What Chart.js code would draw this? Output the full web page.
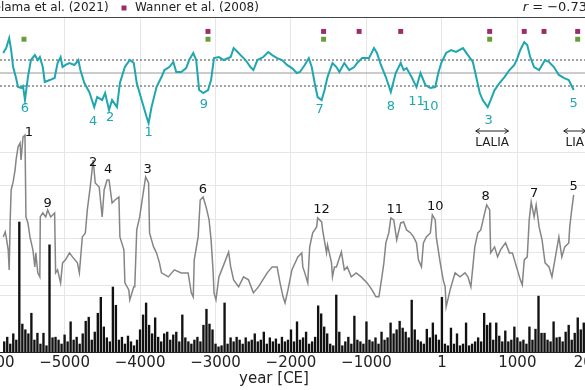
<!DOCTYPE html>
<html>
<head>
<meta charset="utf-8">
<title>Holocene proxies</title>
<script src="https://cdn.jsdelivr.net/npm/chart.js@4.4.1/dist/chart.umd.min.js"></script>
<style>
    html, body { margin: 0; padding: 0; background: #ffffff; }
    #frame { position: relative; width: 585px; height: 390px; overflow: hidden; }
    #chart { position: absolute; left: -60px; top: 0; }
</style>
</head>
<body>
<div id="frame"><canvas id="chart" width="700" height="390"></canvas></div>
<script>
// ========================================
// DATA
// ========================================
// top series (standardised anomaly)
const cyanYears = [-5813,-5774,-5734,-5708,-5682,-5643,-5617,-5577,-5551,-5525,
    -5486,-5446,-5394,-5355,-5328,-5289,-5263,-5197,-5132,-5093,
    -5053,-5027,-4988,-4935,-4870,-4817,-4791,-4738,-4673,-4607,
    -4568,-4502,-4463,-4411,-4371,-4306,-4267,-4201,-4136,-4083,
    -4044,-3979,-3913,-3887,-3848,-3782,-3716,-3677,-3612,-3559,
    -3520,-3454,-3389,-3349,-3295,-3256,-3217,-3164,-3099,-3059,
    -3020,-2955,-2889,-2799,-2760,-2707,-2668,-2602,-2537,-2498,
    -2445,-2367,-2301,-2249,-2184,-2118,-2053,-1988,-1922,-1882,
    -1817,-1764,-1725,-1686,-1647,-1594,-1555,-1516,-1450,-1398,
    -1359,-1293,-1228,-1162,-1123,-1057,-966,-900,-861,-808,
    -743,-677,-612,-546,-507,-468,-402,-337,-284,-219,
    -153,-88,-48,-9,56,122,187,279,345,410,
    449,502,541,607,646,698,764,829,895,960,
    1000,1039,1091,1131,1170,1222,1288,1367,1419,1484,
    1550,1615,1681,1746];
const cyanValues = [1.54,1.92,2.69,1.77,0.46,-0.38,-1.08,-1.15,-1.0,-2.08,
    -0.31,1.0,1.38,1.0,1.23,0.46,-0.69,-0.54,-0.38,0.77,
    1.23,0.46,0.62,0.77,0.62,1.0,0.23,-0.77,-1.46,-2.62,
    -1.85,-2.08,-1.54,-2.85,-2.08,-2.62,-0.77,0.46,1.0,0.77,
    -0.77,-2.08,-3.38,-3.85,-2.62,-1.08,-0.31,0.23,0.46,0.85,
    0.08,0.08,0.38,1.0,1.54,1.0,-1.31,-1.54,-1.31,-0.54,
    1.15,1.23,1.0,1.23,1.92,1.62,1.38,1.0,0.46,0.23,
    1.0,1.23,1.62,1.38,1.15,1.0,0.62,0.38,0.0,0.08,
    0.62,1.15,0.46,-0.77,-1.85,-2.08,-1.31,-0.31,0.77,0.46,
    0.08,0.77,0.23,0.46,0.77,1.15,1.15,1.92,1.54,0.62,
    -0.31,-1.46,0.0,0.77,0.23,0.38,-0.31,-1.08,0.0,-0.92,
    -1.15,-1.08,0.0,0.77,1.54,1.77,1.62,1.92,1.38,0.85,
    -0.15,-1.54,-2.08,-2.62,-2.08,-1.31,-0.77,-0.31,0.23,0.62,
    1.15,1.77,2.38,2.15,1.23,0.46,0.23,1.0,0.85,0.46,
    -0.15,-0.38,-0.54,-1.31];

// bottom grey series
const grayYears = [-5813,-5787,-5774,-5747,-5734,-5721,-5708,-5682,-5656,-5643,
    -5617,-5590,-5577,-5551,-5525,-5512,-5486,-5459,-5420,-5394,
    -5381,-5355,-5328,-5322,-5289,-5250,-5224,-5184,-5132,-5119,
    -5093,-5053,-5027,-4988,-4935,-4896,-4830,-4804,-4765,-4725,
    -4699,-4660,-4621,-4594,-4542,-4502,-4476,-4437,-4411,-4371,
    -4332,-4280,-4267,-4214,-4201,-4149,-4136,-4083,-4070,-4044,
    -4005,-3952,-3926,-3887,-3874,-3848,-3821,-3782,-3743,-3716,
    -3625,-3546,-3454,-3363,-3321,-3295,-3282,-3230,-3203,-3164,
    -3125,-3085,-3059,-3033,-3020,-2994,-2955,-2902,-2826,-2799,
    -2760,-2694,-2629,-2563,-2498,-2432,-2315,-2249,-2184,-2145,
    -2105,-2079,-2040,-1988,-1909,-1857,-1843,-1817,-1778,-1752,
    -1712,-1660,-1647,-1594,-1581,-1529,-1516,-1463,-1450,-1424,
    -1398,-1332,-1293,-1254,-1201,-1136,-1070,-991,-926,-874,
    -835,-795,-769,-743,-704,-677,-638,-599,-546,-507,
    -468,-415,-376,-337,-311,-271,-245,-206,-153,-127,
    -88,-75,-22,17,43,56,109,174,240,305,
    345,384,436,476,515,567,593,633,646,698,
    738,777,843,895,934,973,1039,1065,1091,1131,
    1157,1183,1222,1249,1288,1327,1367,1419,1458,1497,
    1550,1589,1628,1681,1694,1720,1746];
const grayValues = [2.45,2.60,2.45,2.06,1.46,2.96,3.86,4.10,4.46,4.76,
    5.15,5.27,4.76,5.45,5.51,3.05,2.87,2.45,2.06,1.55,
    1.97,1.37,1.25,3.05,3.17,3.05,3.26,3.05,3.17,1.37,
    1.46,1.07,1.67,1.76,1.97,1.85,1.67,1.37,2.45,2.57,
    3.26,3.95,4.76,4.07,3.95,3.05,3.86,4.16,4.16,3.47,
    3.56,3.65,2.45,2.06,1.07,0.86,0.56,0.95,0.95,2.66,
    3.05,3.86,4.25,4.07,2.57,2.36,2.15,1.97,1.67,1.37,
    1.25,1.46,1.37,1.37,0.77,0.65,1.76,2.45,3.56,3.65,
    3.35,2.96,2.36,1.46,0.77,0.56,1.25,1.55,2.00,1.55,
    1.16,0.95,1.25,1.16,0.77,0.95,1.37,1.55,1.55,1.07,
    0.65,0.47,0.86,1.46,1.85,1.97,1.55,1.37,1.07,2.15,
    2.57,2.75,3.02,2.90,2.66,1.97,2.21,1.67,1.25,1.55,
    1.55,2.00,1.46,1.55,1.25,1.37,1.25,1.07,0.86,0.65,
    0.65,1.25,1.67,2.27,2.57,3.02,2.96,2.36,2.87,2.90,
    2.66,2.57,2.45,2.27,1.76,1.55,2.27,2.45,2.57,3.11,
    2.96,2.45,1.67,1.16,0.95,0.35,0.86,1.37,1.25,1.37,
    1.25,0.95,2.15,2.57,2.66,3.17,3.41,3.26,1.97,2.15,
    1.85,2.06,2.27,1.97,1.97,1.67,1.16,1.01,1.76,1.85,
    2.96,3.50,3.05,3.41,2.75,2.36,1.67,1.55,1.25,1.76,
    2.45,1.85,2.15,2.27,2.75,3.26,3.71];

// black histogram, 40-year bins starting at 5800 BCE
const barStartYear = -5800;
const barStep = 40;
const barValues = [1.8,2.6,1.4,3.2,2.1,22.8,4.9,3.9,3.2,6.8,
    2.1,3.3,1.4,3.3,1.1,18.8,2.5,2.6,2.1,1.4,
    3.0,1.8,5.3,2.1,2.6,1.4,3.2,5.4,6.1,2.1,
    3.5,6.8,9.6,4.4,2.5,1.8,11.4,8.2,2.1,2.6,
    1.4,2.8,1.8,1.1,2.1,3.9,6.5,8.6,4.7,3.2,
    6.0,2.6,1.8,3.2,3.5,2.1,3.0,3.5,1.8,6.5,
    2.5,1.8,1.4,2.1,2.6,1.8,4.7,7.5,4.9,3.9,
    1.4,0.9,1.1,8.6,1.4,2.5,1.8,2.6,2.1,1.4,
    2.5,1.8,2.1,3.2,1.8,2.1,3.5,1.4,2.5,1.8,
    2.3,1.4,2.6,1.8,2.1,3.9,1.8,5.3,2.1,2.5,
    3.5,1.4,1.8,2.6,8.1,6.7,4.4,3.2,1.4,1.1,
    10.0,3.5,1.1,1.8,2.6,1.4,6.3,2.1,1.8,1.4,
    5.3,2.1,1.8,2.5,1.4,3.5,2.1,2.5,5.1,3.2,
    3.9,5.4,4.2,3.5,2.5,9.1,3.9,2.1,1.8,1.4,
    4.0,2.5,5.1,3.0,2.1,9.6,1.4,1.1,4.2,1.4,
    3.2,1.1,1.4,5.1,1.1,1.4,1.8,2.5,1.8,6.8,
    4.7,5.1,2.1,5.1,2.8,1.8,3.7,1.8,2.1,4.4,
    2.5,1.8,2.1,1.4,4.4,2.1,4.0,9.8,3.3,3.3,
    2.1,1.8,5.3,2.5,2.6,1.8,3.5,4.7,2.1,3.3,
    6.0,3.9,5.1,2.6,3.5];

// event markers
const helamaYears = [-5538, -3100, -1568, 633, 1799];
const wannerYears = [-3100, -1568, -1097, -546, 633, 1091, 1353, 1799];
const helamaLevel = 2.6;
const wannerLevel = 3.2;

// reference levels of the top series
const refLevels = [1, 0, -1];

// x axis ticks
const xTicks = [-6000, -5000, -4000, -3000, -2000, -1000, 0, 1000, 2000];

// numbered minima / maxima
const cyanLabels = ['6', '4', '2', '1', '9', '7', '8', '11', '10', '3', '5'];
const cyanLabelYears = [-5525, -4621, -4398, -3887, -3153, -1620, -677, -337, -153, 620, 1746];
const cyanLabelValues = [-2.77, -3.77, -3.46, -4.62, -2.46, -2.85, -2.62, -2.23, -2.62, -3.69, -2.38];
const grayLabels = ['1', '9', '2', '4', '3', '6', '12', '11', '10', '8', '7', '5'];
const grayLabelYears = [-5472, -5224, -4621, -4424, -3900, -3167, -1594, -624, -88, 580, 1222, 1746];
const grayLabelValues = [5.57, 3.44, 4.67, 4.46, 4.46, 3.86, 3.26, 3.26, 3.35, 3.65, 3.74, 3.95];

// cold periods
const periodNames = ['LALIA', 'LIA'];
const periodStart = [449, 1615];
const periodEnd = [882, 1905];

const correlationText = '= \u22120.73';
const xTitle = 'year [CE]';

// ========================================
// STYLE
// ========================================
const CYAN = '#1fa6b0';
const GREY = '#858585';
const MAGENTA = '#9c2d68';
const GREEN = '#6b9b3a';
const INK = '#222222';
const FONT = '"DejaVu Sans", sans-serif';

function formatYear(value) {
    if (value === 0) return '1';
    return value < 0 ? '\u2212' + Math.abs(value) : String(value);
}

function pairs(xs, ys) {
    return xs.map((x, i) => ({ x: x, y: ys[i] }));
}

// ========================================
// EXTRA DRAWING (grid, labels, header)
// ========================================
const extrasPlugin = {
    id: 'extras',
    beforeDatasetsDraw(chart) {
        const ctx = chart.ctx;
        const area = chart.chartArea;
        const yGray = chart.scales.yGray;
        const yBar = chart.scales.yBar;
        ctx.save();
        ctx.strokeStyle = '#e6e6e6';
        ctx.lineWidth = 1;
        [1, 2, 3, 4, 5].forEach(v => {
            const py = Math.round(yGray.getPixelForValue(v)) + 0.5;
            ctx.beginPath(); ctx.moveTo(area.left, py); ctx.lineTo(area.right, py); ctx.stroke();
        });
        [10, 20].forEach(v => {
            const py = Math.round(yBar.getPixelForValue(v)) + 0.5;
            ctx.beginPath(); ctx.moveTo(area.left, py); ctx.lineTo(area.right, py); ctx.stroke();
        });
        ctx.restore();
    },
    afterDatasetsDraw(chart) {
        const ctx = chart.ctx;
        const area = chart.chartArea;
        const x = chart.scales.x;
        const yTop = chart.scales.yTop;
        const yGray = chart.scales.yGray;
        ctx.save();

        // top spine
        ctx.strokeStyle = '#444';
        ctx.lineWidth = 1;
        ctx.beginPath();
        ctx.moveTo(area.left, Math.round(area.top) + 0.5);
        ctx.lineTo(area.right, Math.round(area.top) + 0.5);
        ctx.stroke();

        // numbered events
        ctx.textAlign = 'center';
        ctx.textBaseline = 'middle';
        ctx.font = '13px ' + FONT;
        ctx.fillStyle = CYAN;
        cyanLabels.forEach((t, i) => {
            ctx.fillText(t, x.getPixelForValue(cyanLabelYears[i]), yTop.getPixelForValue(cyanLabelValues[i]));
        });
        ctx.fillStyle = '#111';
        grayLabels.forEach((t, i) => {
            ctx.fillText(t, x.getPixelForValue(grayLabelYears[i]), yGray.getPixelForValue(grayLabelValues[i]));
        });

        // LALIA / LIA arrows
        ctx.font = '12px ' + FONT;
        ctx.strokeStyle = INK;
        ctx.fillStyle = INK;
        const arrowY = yTop.getPixelForValue(-4.46);
        const textY = yTop.getPixelForValue(-5.38);
        periodNames.forEach((name, i) => {
            const x0 = x.getPixelForValue(periodStart[i]);
            const x1 = x.getPixelForValue(periodEnd[i]);
            ctx.beginPath();
            ctx.moveTo(x0, arrowY); ctx.lineTo(x1, arrowY);
            ctx.moveTo(x0 + 4, arrowY - 2.5); ctx.lineTo(x0, arrowY); ctx.lineTo(x0 + 4, arrowY + 2.5);
            ctx.moveTo(x1 - 4, arrowY - 2.5); ctx.lineTo(x1, arrowY); ctx.lineTo(x1 - 4, arrowY + 2.5);
            ctx.stroke();
            ctx.fillText(name, (x0 + x1) / 2, textY);
        });

        // x axis title (centred on the full figure axis, which extends past this crop)
        ctx.font = '15px ' + FONT;
        ctx.fillText(xTitle, 334, 379);

        // header: legend and correlation
        const hy = 8;
        ctx.font = '12px ' + FONT;
        ctx.textAlign = 'left';
        ctx.fillStyle = GREEN;
        ctx.fillRect(28, hy - 2.5, 5, 5);
        ctx.fillStyle = INK;
        ctx.fillText('Helama et al. (2021)', 44.5, hy);
        ctx.fillStyle = MAGENTA;
        ctx.fillRect(181.5, hy - 2.5, 5, 5);
        ctx.fillStyle = INK;
        ctx.fillText('Wanner et al. (2008)', 195, hy);

        ctx.textAlign = 'right';
        ctx.font = '13px ' + FONT;
        const rightEdge = 647;
        ctx.fillText(correlationText, rightEdge, hy);
        const w = ctx.measureText(correlationText).width;
        ctx.font = 'italic 13px ' + FONT;
        ctx.fillText('r ', rightEdge - w, hy);
        ctx.restore();
    }
};

// ========================================
// BUILD CHART
// ========================================
const ctx = document.getElementById('chart').getContext('2d');
const xMin = -6598;
const xMax = 2572;

const refDatasets = refLevels.map(level => ({
    type: 'line',
    data: [{ x: xMin, y: level }, { x: xMax, y: level }],
    yAxisID: 'yTop',
    borderColor: level === 0 ? '#999999' : '#444444',
    borderWidth: 1,
    borderDash: level === 0 ? [] : [2, 2],
    pointRadius: 0,
    order: 3
}));

new Chart(ctx, {
    type: 'line',
    data: {
        datasets: [
            {
                type: 'scatter',
                data: wannerYears.map(y => ({ x: y, y: wannerLevel })),
                yAxisID: 'yTop',
                pointStyle: 'rect',
                pointRadius: 3.5,
                backgroundColor: MAGENTA,
                borderWidth: 0,
                order: 0
            },
            {
                type: 'scatter',
                data: helamaYears.map(y => ({ x: y, y: helamaLevel })),
                yAxisID: 'yTop',
                pointStyle: 'rect',
                pointRadius: 3.5,
                backgroundColor: GREEN,
                borderWidth: 0,
                order: 0
            },
            {
                type: 'line',
                data: pairs(cyanYears, cyanValues),
                yAxisID: 'yTop',
                borderColor: CYAN,
                borderWidth: 2,
                pointRadius: 0,
                tension: 0,
                order: 1
            },
            {
                type: 'line',
                data: pairs(grayYears, grayValues),
                yAxisID: 'yGray',
                borderColor: GREY,
                borderWidth: 1.5,
                pointRadius: 0,
                tension: 0,
                order: 2
            },
            ...refDatasets,
            {
                type: 'bar',
                data: barValues.map((v, i) => ({ x: barStartYear + i * barStep, y: v })),
                yAxisID: 'yBar',
                backgroundColor: '#111111',
                barThickness: 1.7,
                grouped: false,
                order: 5
            }
        ]
    },
    options: {
        responsive: false,
        animation: false,
        layout: { padding: { top: 17, left: 0, right: 0, bottom: 0 } },
        plugins: {
            legend: { display: false },
            tooltip: { enabled: false }
        },
        scales: {
            x: {
                type: 'linear',
                min: xMin,
                max: xMax,
                offset: false,
                grid: { color: '#e6e6e6', drawTicks: false, offset: false },
                border: { display: true, color: INK },
                afterBuildTicks: scale => {
                    scale.ticks = xTicks.map(v => ({ value: v }));
                },
                afterFit: scale => {
                    scale.height = 38;
                    scale.paddingLeft = 0;
                    scale.paddingRight = 0;
                },
                ticks: {
                    autoSkip: false,
                    maxRotation: 0,
                    padding: 2,
                    color: INK,
                    font: { size: 15, family: FONT },
                    callback: formatYear
                }
            },
            yTop: { type: 'linear', display: false, min: -21.46, max: 4.31 },
            yGray: { type: 'linear', display: false, min: -1.006, max: 9.054 },
            yBar: { type: 'linear', display: false, min: 0, max: 58.77 }
        }
    },
    plugins: [extrasPlugin]
});
</script>
</body>
</html>
